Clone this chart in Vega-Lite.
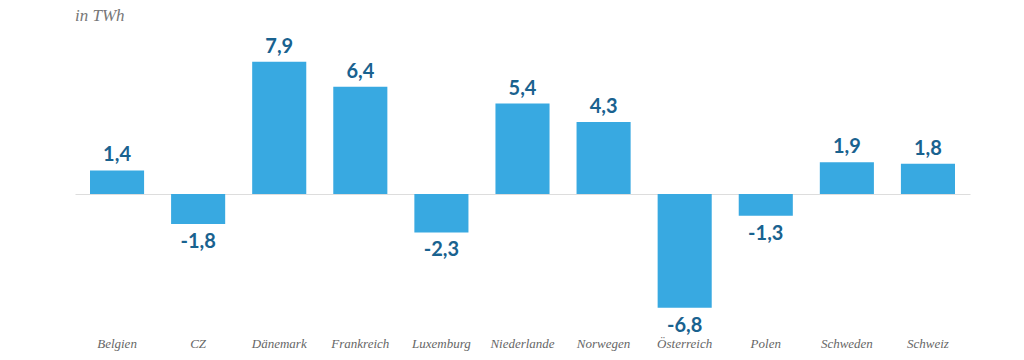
{
  "$schema": "https://vega.github.io/schema/vega-lite/v6.json",
  "width": 895,
  "height": 276,
  "autosize": "none",
  "padding": {"left": 75, "top": 35, "right": 54, "bottom": 49},
  "background": "white",
  "title": {"text": "in TWh", "anchor": "start", "font": "Liberation Serif", "fontStyle": "italic", "fontWeight": "normal", "fontSize": 17, "color": "#777777", "offset": 10},
  "config": {
    "view": {"stroke": null}
  },
  "data": {"values": [
    {"land": "Belgien", "wert": 1.4, "label": "1,4"},
    {"land": "CZ", "wert": -1.8, "label": "-1,8"},
    {"land": "Dänemark", "wert": 7.9, "label": "7,9"},
    {"land": "Frankreich", "wert": 6.4, "label": "6,4"},
    {"land": "Luxemburg", "wert": -2.3, "label": "-2,3"},
    {"land": "Niederlande", "wert": 5.4, "label": "5,4"},
    {"land": "Norwegen", "wert": 4.3, "label": "4,3"},
    {"land": "Österreich", "wert": -6.8, "label": "-6,8"},
    {"land": "Polen", "wert": -1.3, "label": "-1,3"},
    {"land": "Schweden", "wert": 1.9, "label": "1,9"},
    {"land": "Schweiz", "wert": 1.8, "label": "1,8"}
  ]},
  "encoding": {
    "x": {"field": "land", "type": "nominal", "sort": null,
      "scale": {"paddingInner": 0.333, "paddingOuter": 0.185},
      "axis": {"title": null, "orient": "bottom", "domain": false, "ticks": false, "labelAngle": 0, "labelPadding": 26, "labelFont": "Liberation Serif", "labelFontStyle": "italic", "labelFontSize": 13, "labelColor": "#666666"}},
    "y": {"field": "wert", "type": "quantitative", "scale": {"domain": [-7, 9.5], "nice": false},
      "axis": {"title": null, "values": [0], "grid": true, "gridColor": "#dddddd", "gridWidth": 1, "labels": false, "ticks": false, "domain": false}}
  },
  "layer": [
    {
      "mark": {"type": "bar", "color": "#38a9e1"}
    },
    {
      "transform": [{"filter": "datum.wert >= 0"}],
      "mark": {"type": "text", "baseline": "alphabetic", "dy": -9, "font": "Lato", "fontWeight": "bold", "fontSize": 20, "color": "#19628f"},
      "encoding": {
        "text": {"field": "label", "type": "nominal"}
      }
    },
    {
      "transform": [{"filter": "datum.wert < 0"}],
      "mark": {"type": "text", "baseline": "top", "dy": 8, "font": "Lato", "fontWeight": "bold", "fontSize": 20, "color": "#19628f"},
      "encoding": {
        "text": {"field": "label", "type": "nominal"}
      }
    }
  ]
}
